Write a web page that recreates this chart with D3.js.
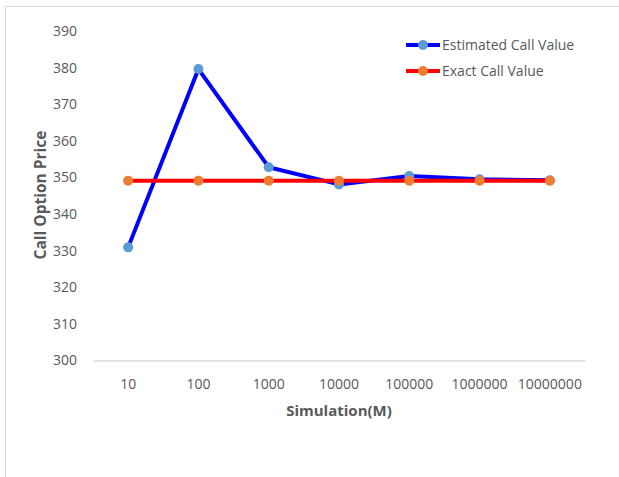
<!DOCTYPE html>
<html>
<head>
<meta charset="utf-8">
<script src="https://cdn.jsdelivr.net/npm/d3@7"></script>
<style>
  html, body { margin: 0; padding: 0; background: #fff; }
  svg { display: block; }
</style>
</head>
<body>
<svg id="chart" width="619" height="477"></svg>
<script>
// Monte Carlo estimate of a call option vs the exact (closed-form) value
const simulations = ["10", "100", "1000", "10000", "100000", "1000000", "10000000"];
const estimatedCall = [330.9, 379.6, 352.8, 348.1, 350.4, 349.5, 349.2];
const exactCall = [349.1, 349.1, 349.1, 349.1, 349.1, 349.1, 349.1];
const yTicks = [300, 310, 320, 330, 340, 350, 360, 370, 380, 390];
const seriesNames = ["Estimated Call Value", "Exact Call Value"];

const svg = d3.select("#chart");
const font = "'Liberation Sans Narrow', 'Open Sans', sans-serif";
const textColor = "#595959";

// outer chart frame
svg.append("rect")
  .attr("x", 5.5).attr("y", 6.5)
  .attr("width", 640).attr("height", 500)
  .attr("fill", "none").attr("stroke", "#d9d9d9").attr("stroke-width", 1);

const plot = { left: 93, right: 585, top: 31, bottom: 360.5 };

const x = d3.scaleBand().domain(simulations).range([plot.left, plot.right]);
const y = d3.scaleLinear().domain([300, 390]).range([plot.bottom, plot.top]);

// y tick labels (no axis line, no gridlines)
const yAxis = d3.axisLeft(y).tickValues(yTicks).tickSize(0).tickPadding(0);
const gy = svg.append("g").attr("transform", `translate(${plot.left - 16},0)`).call(yAxis);
gy.select(".domain").remove();
gy.selectAll("text").attr("font-family", font).attr("font-size", 14).attr("fill", textColor);

// x axis baseline and category labels
const xAxis = d3.axisBottom(x).tickSize(0).tickPadding(0);
const gx = svg.append("g").attr("transform", `translate(0,${plot.bottom})`).call(xAxis);
gx.select(".domain").attr("stroke", "#d9d9d9").attr("stroke-width", 1.5);
gx.selectAll("text").attr("font-family", font).attr("font-size", 14).attr("fill", textColor)
  .attr("dy", "0").attr("y", 28);

// axis titles
svg.append("text")
  .attr("transform", `translate(46,195) rotate(-90)`)
  .attr("text-anchor", "middle")
  .attr("font-family", "'Open Sans', sans-serif").attr("font-weight", "bold")
  .attr("font-size", 15.5).attr("fill", textColor)
  .text("Call Option Price");

svg.append("text")
  .attr("x", (plot.left + plot.right) / 2).attr("y", 416)
  .attr("text-anchor", "middle")
  .attr("font-family", font).attr("font-weight", "bold")
  .attr("font-size", 15).attr("fill", textColor)
  .text("Simulation(M)");

const cx = d => x(d) + x.bandwidth() / 2;
const line = d3.line().x(d => cx(d.k)).y(d => y(d.v));

const series = [
  { name: seriesNames[0], values: estimatedCall, stroke: "#0000ff", marker: "#5b9bd5" },
  { name: seriesNames[1], values: exactCall, stroke: "#ff0000", marker: "#ed7d31" }
];

series.forEach(s => {
  const pts = simulations.map((k, i) => ({ k, v: s.values[i] }));
  svg.append("path").datum(pts)
    .attr("d", line).attr("fill", "none")
    .attr("stroke", s.stroke).attr("stroke-width", 4)
    .attr("stroke-linejoin", "round");
  svg.append("g").selectAll("circle").data(pts).join("circle")
    .attr("cx", d => cx(d.k)).attr("cy", d => y(d.v)).attr("r", 5)
    .attr("fill", s.marker);
});

// legend
const legend = svg.append("g").attr("transform", "translate(406,45)");
series.forEach((s, i) => {
  const g = legend.append("g").attr("transform", `translate(0,${i * 26})`);
  g.append("line").attr("x1", 0).attr("x2", 34).attr("y1", 0).attr("y2", 0)
    .attr("stroke", s.stroke).attr("stroke-width", 4);
  g.append("circle").attr("cx", 17).attr("cy", 0).attr("r", 5).attr("fill", s.marker);
  g.append("text").attr("x", 36).attr("y", 0).attr("dy", "0.35em")
    .attr("font-family", font).attr("font-size", 14).attr("fill", textColor)
    .text(s.name);
});
</script>
</body>
</html>
